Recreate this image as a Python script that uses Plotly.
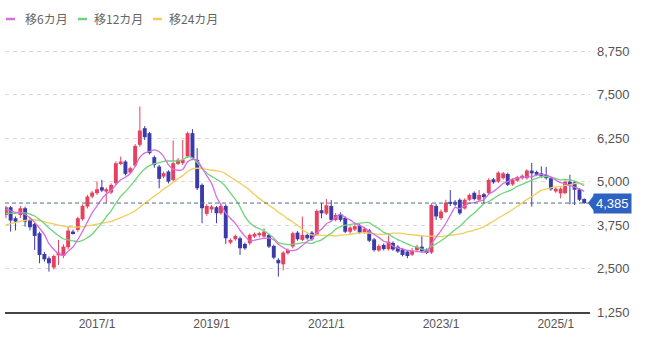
import plotly.graph_objects as go
import pandas as pd

# Monthly candles, 2015/6 .. 2025/7
months = pd.date_range("2015-06-01", periods=122, freq="MS")

open_ = [4044, 4265, 3950, 4044, 4236, 3900, 3785, 3516, 2921, 2796,
         2527, 2880, 2863, 3113, 3564, 3612, 3920, 4284, 4572, 4668,
         4840, 4716, 4687, 4956, 5532, 5580, 5263, 5465, 6060, 6540,
         6396, 5705, 5436, 5148, 5292, 5052, 5513, 5532, 5724, 6396,
         5628, 4908, 4073, 4200, 4265, 4092, 4303, 3247, 3343, 3372,
         3209, 3228, 3420, 3460, 3420, 3468, 3151, 2748, 2623, 2940,
         3132, 3535, 3324, 3468, 3535, 3480, 4180, 4080, 4300, 3900,
         4060, 3960, 3560, 3620, 3740, 3540, 3600, 3340, 3020, 3180,
         3060, 3240, 3130, 3050, 2990, 2900, 3030, 3130, 3040, 2960,
         4300, 3950, 4130, 4420, 4420, 4480, 4230, 4480, 4680, 4480,
         4640, 4670, 5070, 5000, 5100, 5220, 4920, 5030, 5100, 5100,
         5320, 5280, 5240, 5200, 5100, 4720, 4660, 4670, 5000, 4980,
         4780, 4500]
high = [4300, 4300, 4000, 4300, 4280, 3950, 3820, 3560, 2980, 2850,
        2900, 3324, 3200, 3708, 3620, 3990, 4350, 4620, 4740, 5004,
        5052, 4830, 4950, 5580, 5724, 5620, 5430, 6080, 7164, 6600,
        6430, 5750, 5480, 5290, 5330, 6185, 5680, 6204, 6440, 6511,
        5964, 4950, 4350, 4330, 4300, 4380, 4350, 3370, 3480, 3420,
        3250, 3510, 3540, 3560, 3660, 3510, 3190, 2800, 3000, 3080,
        3560, 3580, 3996, 3510, 3580, 4200, 4380, 4500, 4470, 4100,
        4120, 4000, 3720, 3820, 3780, 3700, 3640, 3380, 3200, 3220,
        3450, 3280, 3170, 3090, 3030, 3090, 3180, 3440, 3080, 4380,
        4360, 4200, 4480, 4760, 4470, 4520, 4520, 4660, 4720, 4760,
        4680, 5100, 5110, 5300, 5280, 5260, 5100, 5170, 5210, 5360,
        5540, 5320, 5440, 5420, 5140, 4840, 4840, 5040, 5200, 5020,
        4820, 4520]
low = [3950, 3564, 3600, 3950, 3708, 3600, 3036, 2652, 2700, 2412,
       2480, 2604, 2800, 3050, 3480, 3560, 3880, 4230, 4520, 4620,
       4700, 4380, 4640, 4900, 5480, 5180, 5220, 5420, 6000, 6200,
       5780, 5400, 4812, 5100, 4950, 5000, 5480, 5480, 5680, 5620,
       4760, 3804, 4020, 4100, 3804, 4050, 3209, 3200, 3300, 2892,
       3040, 3180, 3380, 3400, 3380, 3090, 2770, 2268, 2450, 2900,
       3080, 3300, 3290, 3330, 3300, 3440, 3950, 4040, 3860, 3860,
       3850, 3520, 3500, 3580, 3500, 3500, 3260, 2990, 2980, 3020,
       3020, 3010, 2950, 2850, 2800, 2860, 2990, 2960, 2920, 2920,
       3900, 3900, 4100, 4300, 4290, 4050, 4200, 4440, 4460, 4440,
       4380, 4640, 4940, 4960, 5060, 4880, 4880, 5000, 5060, 5060,
       4280, 5160, 5110, 5060, 4740, 4680, 4520, 4640, 4350, 4330,
       4440, 4360]
close = [4265, 3881, 3850, 4236, 3852, 3689, 3440, 2892, 2767, 2652,
         2863, 2960, 3132, 3593, 3516, 3948, 4303, 4572, 4687, 4783,
         4745, 4783, 4908, 5532, 5580, 5225, 5388, 6031, 6473, 6281,
         5820, 5484, 5081, 5244, 5004, 5532, 5628, 5628, 6396, 5676,
         4812, 4236, 4303, 4284, 4092, 4303, 3372, 3324, 3439, 3084,
         3084, 3468, 3497, 3520, 3564, 3132, 2815, 2652, 2959, 3036,
         3516, 3343, 3468, 3372, 3343, 4160, 4090, 4320, 3900, 4040,
         3900, 3560, 3680, 3720, 3530, 3650, 3300, 3030, 3150, 3060,
         3270, 3050, 2990, 2890, 2860, 3010, 3130, 3000, 2950, 4330,
         4000, 4140, 4400, 4360, 4340, 4090, 4480, 4620, 4500, 4620,
         4560, 5050, 4980, 5260, 5240, 4910, 5060, 5130, 5170, 5320,
         5240, 5200, 5150, 5100, 4780, 4800, 4800, 5000, 4900, 4770,
         4480, 4385]
# closes before the visible window (2013/7 .. 2015/5), estimated from the MA levels
history_close = [3050, 3150, 3200, 3300, 3350, 3400, 3450, 3500, 3550, 3600, 3750, 3850,
                 3850, 3900, 3950, 4000, 4050, 4130,
                 4100, 4150, 4200, 4230, 4255]

ma_windows = [6, 12, 24]
ma_names = ["移6カ月", "移12カ月", "移24カ月"]
ma_colors = ["#d56ee0", "#6fd47c", "#f2cd5c"]

tick_dates = ["2017-01-01", "2019-01-01", "2021-01-01", "2023-01-01", "2025-01-01"]
tick_text = ["2017/1", "2019/1", "2021/1", "2023/1", "2025/1"]
y_ticks = [1250, 2500, 3750, 5000, 6250, 7500, 8750]
last_price = close[-1]

UP = "#e6425e"
DOWN = "#3b3bab"
BODY_W = 25 * 86400000  # body width in ms

all_close = pd.Series(history_close + close)

fig = go.Figure()
for is_up, col in [(True, UP), (False, DOWN)]:
    idx = [i for i in range(len(close)) if (close[i] >= open_[i]) == is_up]
    # wicks
    wx, wy = [], []
    for i in idx:
        wx += [months[i], months[i], None]
        wy += [low[i], high[i], None]
    fig.add_trace(go.Scatter(x=wx, y=wy, mode="lines", line=dict(color=col, width=1),
                             showlegend=False, hoverinfo="skip", connectgaps=False))
    # bodies
    fig.add_trace(go.Bar(x=[months[i] for i in idx],
                         base=[min(open_[i], close[i]) for i in idx],
                         y=[max(abs(close[i] - open_[i]), 25) for i in idx],
                         width=BODY_W, marker=dict(color=col, line=dict(width=0)),
                         showlegend=False, hoverinfo="skip"))

for w, name, col in reversed(list(zip(ma_windows, ma_names, ma_colors))):
    ma = all_close.rolling(w).mean().iloc[len(history_close):].tolist()
    fig.add_trace(go.Scatter(x=months, y=ma, mode="lines", name=name,
                             line=dict(color=col, width=1.3, shape="spline", smoothing=0.6),
                             showlegend=False, hoverinfo="skip"))

L, R, T, B = 5, 56, 34, 33
W, H = 646, 345
pw = W - L - R
ph = H - T - B

def px_x(p):
    return (p - L) / pw

def px_y(p):
    return (H - B - p) / ph

shapes = []
annotations = []
# manual legend
leg_items = [(6, 23), (78, 92), (153, 167)]
for (lx, tx), name, col in zip(leg_items, ma_names, ma_colors):
    shapes.append(dict(type="line", xref="paper", yref="paper",
                       x0=px_x(lx), x1=px_x(lx + 9), y0=px_y(19), y1=px_y(19),
                       line=dict(color=col, width=2.5)))
    annotations.append(dict(xref="paper", yref="paper", x=px_x(tx), y=px_y(19),
                            xanchor="left", yanchor="middle", showarrow=False,
                            text=name, font=dict(family="Noto Sans CJK JP", size=12, color="#666")))

# last price line
shapes.append(dict(type="line", xref="paper", yref="y", x0=0, x1=1,
                   y0=last_price, y1=last_price,
                   line=dict(color="#4f6d8e", width=1, dash="4px,3px")))
# price tag pointer
tri_h = 8 * (8000 / ph)
shapes.append(dict(type="path", xref="paper", yref="y",
                   path=f"M {px_x(588)},{last_price} L {px_x(594)},{last_price + tri_h} "
                        f"L {px_x(594)},{last_price - tri_h} Z",
                   fillcolor="#2e62c2", line=dict(width=0)))
annotations.append(dict(xref="paper", yref="y", x=px_x(593), y=last_price,
                        xanchor="left", yanchor="middle", showarrow=False,
                        text=f"{last_price:,}", bgcolor="#2e62c2", borderpad=2,
                        font=dict(family="Liberation Sans, Arial", size=13, color="white")))

fig.update_layout(
    width=W, height=H,
    margin=dict(l=L, r=R, t=T, b=B),
    paper_bgcolor="white", plot_bgcolor="white",
    showlegend=False, barmode="overlay",
    shapes=shapes, annotations=annotations,
    xaxis=dict(type="date", range=["2015-05-26", "2025-08-07"],
               tickvals=tick_dates, ticktext=tick_text,
               showgrid=False, showline=True, linecolor="#444", linewidth=1.5,
               ticks="", fixedrange=True,
               tickfont=dict(family="Liberation Sans, Arial", size=12, color="#555")),
    yaxis=dict(side="right", range=[1250, 9250], tickvals=y_ticks,
               ticktext=[f"{v:,}" for v in y_ticks],
               showgrid=True, gridcolor="#d9d9d9", griddash="4px,4px", gridwidth=1,
               zeroline=False, ticks="", ticklabelstandoff=6, fixedrange=True,
               tickfont=dict(family="Liberation Sans, Arial", size=13, color="#555")),
)

fig.write_html("out.html")
